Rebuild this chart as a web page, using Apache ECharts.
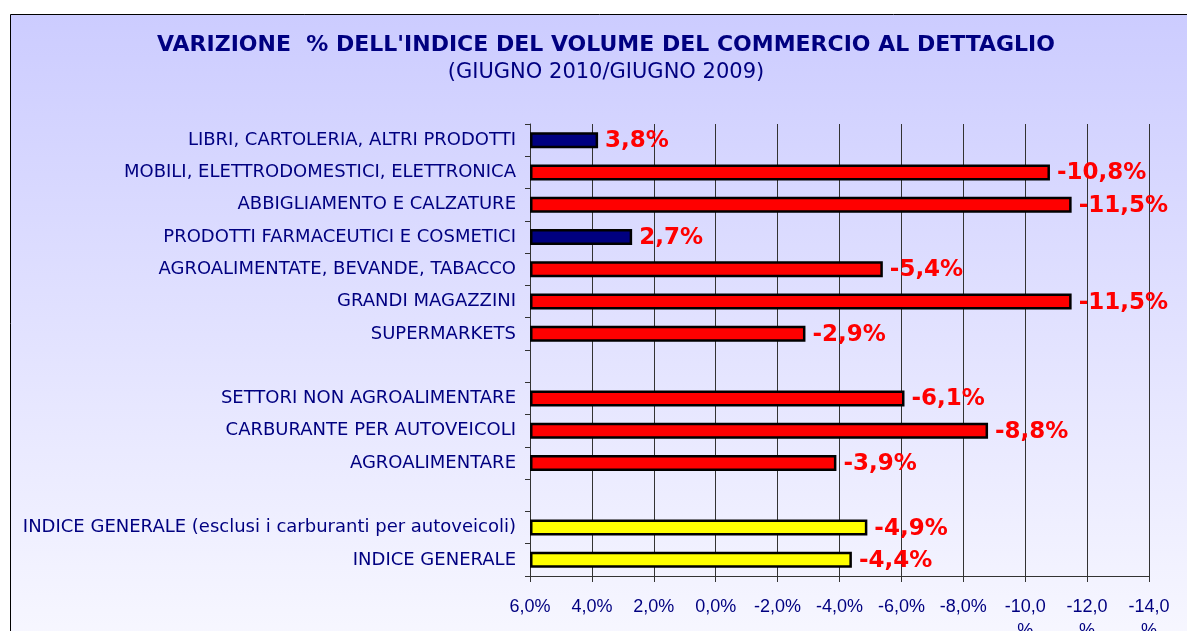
<!DOCTYPE html>
<html>
<head>
<meta charset="utf-8">
<script src="https://cdn.jsdelivr.net/npm/echarts@6/dist/echarts.min.js"></script>
<style>
  html, body { margin: 0; padding: 0; background: #fff; }
  #chart { width: 1187px; height: 631px; }
</style>
</head>
<body>
<div id="chart"></div>
<script>
// settori (dall'alto verso il basso), le righe vuote separano i gruppi
const categories = [
  'LIBRI, CARTOLERIA, ALTRI PRODOTTI',
  'MOBILI, ELETTRODOMESTICI, ELETTRONICA',
  'ABBIGLIAMENTO E CALZATURE',
  'PRODOTTI FARMACEUTICI E COSMETICI',
  'AGROALIMENTATE, BEVANDE, TABACCO',
  'GRANDI MAGAZZINI',
  'SUPERMARKETS',
  ' ',
  'SETTORI NON AGROALIMENTARE',
  'CARBURANTE PER AUTOVEICOLI',
  'AGROALIMENTARE',
  '  ',
  'INDICE GENERALE (esclusi i carburanti per autoveicoli)',
  'INDICE GENERALE'
]
const variazione = [3.8, -10.8, -11.5, 2.7, -5.4, -11.5, -2.9, null, -6.1, -8.8, -3.9, null, -4.9, -4.4]
const indiciGenerali = ['INDICE GENERALE (esclusi i carburanti per autoveicoli)', 'INDICE GENERALE']
const xTicks = { min: -14, max: 6, step: 2 }

const fmt = (v) => v.toFixed(1).replace('.', ',')

const barColor = (name, v) => {
  if (indiciGenerali.includes(name)) return '#ffff00'
  return v > 0 ? '#000080' : '#ff0000'
}

const chart = echarts.init(document.getElementById('chart'))

const option = {
  animation: false,
  graphic: [
    {
      type: 'rect',
      z: -10,
      shape: { x: 10.5, y: 14.5, width: 1200, height: 640 },
      style: {
        fill: new echarts.graphic.LinearGradient(0, 0, 0, 1, [
          { offset: 0, color: '#ccccff' },
          { offset: 1, color: '#f8f8ff' }
        ]),
        stroke: '#000',
        lineWidth: 1
      }
    },
    {
      type: 'text',
      x: 606,
      y: 45,
      style: {
        text: "VARIZIONE  % DELL'INDICE DEL VOLUME DEL COMMERCIO AL DETTAGLIO",
        fill: '#000080',
        font: 'bold 22px "DejaVu Sans"',
        textAlign: 'center',
        textVerticalAlign: 'middle'
      }
    },
    {
      type: 'text',
      x: 606,
      y: 73,
      style: {
        text: '(GIUGNO 2010/GIUGNO 2009)',
        fill: '#000080',
        font: '21px "DejaVu Sans"',
        textAlign: 'center',
        textVerticalAlign: 'middle'
      }
    }
  ],
  grid: {
    left: 530,
    right: 38,
    top: 124,
    bottom: 55,
    outerBoundsMode: 'none'
  },
  xAxis: {
    type: 'value',
    inverse: true,
    min: xTicks.min,
    max: xTicks.max,
    interval: xTicks.step,
    startValue: xTicks.max,
    axisLine: { show: true, lineStyle: { color: '#333', width: 1 } },
    axisTick: { show: true, length: 6, lineStyle: { color: '#333' } },
    splitLine: { show: true, lineStyle: { color: '#333', width: 1 } },
    axisLabel: {
      color: '#000080',
      fontFamily: 'Liberation Sans',
      fontSize: 18,
      margin: 19,
      lineHeight: 24,
      formatter: (v) => Math.abs(v) >= 10 ? fmt(v) + '\n%' : fmt(v) + '%'
    }
  },
  yAxis: {
    type: 'category',
    inverse: true,
    data: categories,
    axisLine: { show: true, onZero: false, lineStyle: { color: '#333', width: 1 } },
    axisTick: { show: true, length: 5, lineStyle: { color: '#333' } },
    splitLine: { show: false },
    axisLabel: {
      color: '#000080',
      fontFamily: 'DejaVu Sans',
      fontSize: 18,
      margin: 14,
      interval: 0
    }
  },
  series: [
    {
      type: 'bar',
      barWidth: 16,
      data: variazione.map((v, i) => ({
        value: v,
        itemStyle: {
          color: barColor(categories[i], v),
          borderColor: '#000',
          borderWidth: 2.5
        }
      })),
      label: {
        show: true,
        position: 'right',
        distance: 7,
        offset: [0, 1],
        color: '#ff0000',
        fontFamily: 'DejaVu Sans',
        fontWeight: 'bold',
        fontSize: 23,
        formatter: (p) => fmt(p.value) + '%'
      }
    }
  ]
}

chart.setOption(option)
</script>
</body>
</html>
